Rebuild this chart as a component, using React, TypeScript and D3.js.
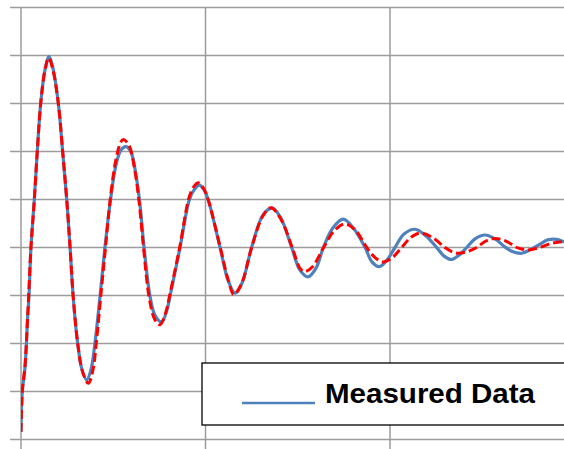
import React from "react";
import * as d3 from "d3";

// time (ms) and displacement (mm)
const measuredT = [0, 0.7, 2.2, 3.6, 4.3, 5.4, 7.2, 8.8, 10.7, 13.0, 15.2, 17.3, 20.2, 22.6, 24.8, 26.6, 28.3, 30.7, 33.1, 35.6, 37.9, 40.1, 42.8, 45.5, 48.5, 51.5, 54.2, 56.9, 59.6, 62.3, 64.5, 66.7, 69.9, 72.6, 76.3, 79.1, 80.8, 86.2, 91.2, 93.8, 96.6, 99.2, 101.5, 107.9, 112.2, 116.0, 119.8, 125.0, 131.2, 136.2, 140.9, 146.7, 151.2, 155.7, 159.9, 163.9, 169.1, 174.7, 180.0, 186.5, 190.2, 194.2, 198.4, 202.7, 207.6, 213.6, 219.5, 225.3, 229.3, 233.4, 237.4, 241.6, 246.1, 251.5, 256.9, 262.3, 266.7, 271.4, 275.9, 281.3, 285.6, 290.4, 294.3, 300];
const measuredY = [-38.4, -30, -24.9, -14.5, -10.3, 0, 9.9, 19.9, 30.1, 37.0, 39.75, 37.4, 30.1, 19.9, 9.9, 0, -10.3, -19.9, -25.5, -27.6, -25.5, -19.9, -10.3, 0, 9.9, 17.2, 20.3, 21.0, 19.9, 15.1, 8.9, 0, -10.1, -14.1, -15.5, -13.0, -10.1, 0, 9.9, 12.0, 13.0, 12.0, 9.9, 0, -6.8, -9.5, -7.4, 0, 6.8, 8.2, 6.1, 0, -4.7, -6.1, -4.3, 0, 4.1, 5.9, 4.1, 0, -3.0, -4.0, -2.6, 0, 2.8, 3.8, 2.4, 0, -1.8, -2.5, -1.6, 0, 1.8, 2.6, 1.8, 0.1, -0.9, -1.2, -0.5, 0.7, 1.6, 1.7, 1.2, 0.6];

const modelT = [0, 0.7, 2.2, 3.6, 5.4, 7.2, 8.8, 10.7, 13.0, 15.0, 17.3, 20.2, 22.6, 24.8, 26.6, 28.3, 30.7, 33.3, 36.5, 39.0, 40.8, 43.2, 45.8, 48.5, 51.3, 53.9, 55.4, 58.5, 61.5, 64.0, 66.4, 69.5, 72.5, 75.3, 78.5, 80.5, 86.0, 91.0, 93.7, 96.1, 99.0, 101.5, 108.0, 112.4, 115.4, 119.5, 125.0, 131.0, 135.5, 141.0, 147.0, 151.5, 153.9, 158.0, 164.0, 169.8, 175.6, 181.5, 187.4, 191.9, 196.4, 201.3, 206.3, 211.3, 216.3, 223.0, 229.8, 233.4, 237.0, 242.0, 247.0, 252.0, 256.9, 262.8, 268.7, 271.8, 275.0, 281.0, 287.5, 293.9, 300];
const modelY = [-38.4, -30, -24.5, -14.5, 0, 9.9, 19.9, 30.1, 37.0, 39.5, 37.0, 30.1, 19.9, 9.9, 0, -10.3, -19.9, -25.8, -28.3, -25.5, -19.9, -10.3, 0, 10.5, 18.0, 21.8, 22.5, 21.3, 16.5, 9.5, 0, -10.5, -15.0, -16.1, -13.5, -10.1, 0, 10.3, 12.7, 13.5, 12.3, 9.9, 0, -6.9, -9.8, -7.6, 0, 6.5, 8.3, 5.8, 0, -4.5, -5.0, -4.0, 0, 3.5, 4.9, 3.5, 0, -2.1, -3.0, -2.1, 0, 2.1, 3.0, 2.1, 0, -0.85, -1.2, -0.85, 0, 1.35, 1.9, 1.35, 0, -0.35, -0.5, 0, 0.85, 1.2, 1.0];

const xTicks = [0, 100, 200, 300];
const yTicks = [-40, -30, -20, -10, 0, 10, 20, 30, 40, 50];
const legendLabel = "Measured Data";

const W = 564;
const H = 449;

export default function App() {
  const x = d3.scaleLinear().domain([0, 300]).range([21, 574.5]);
  const y = d3.scaleLinear().domain([-40, 50]).range([439.5, 7.5]);

  const line = d3
    .line<[number, number]>()
    .x((d) => x(d[0]))
    .y((d) => y(d[1]))
    .curve(d3.curveCatmullRom.alpha(0.5));

  const measured = measuredT.map((t, i) => [t, measuredY[i]] as [number, number]);
  const model = modelT.map((t, i) => [t, modelY[i]] as [number, number]);

  const grid = "#9c9c9c";

  return (
    <svg
      width={W}
      height={H}
      style={{ position: "absolute", left: 0, top: 0, background: "#fff" }}
    >
      <defs>
        <clipPath id="plot">
          <rect x={21} y={0} width={W - 21} height={445} />
        </clipPath>
      </defs>
      {yTicks.map((v) => (
        <line key={"h" + v} x1={10} x2={W} y1={y(v)} y2={y(v)} stroke={grid} strokeWidth={1.5} />
      ))}
      {xTicks.map((v) => (
        <line key={"v" + v} x1={x(v)} x2={x(v)} y1={y(50)} y2={H} stroke={grid} strokeWidth={1.5} />
      ))}
      <g clipPath="url(#plot)">
        <path d={line(measured) || ""} fill="none" stroke="#4f81bd" strokeWidth={3.2} strokeLinejoin="round" />
        <path d={line(model) || ""} fill="none" stroke="#ff0000" strokeWidth={3} strokeDasharray="9,4" />
      </g>
      <rect x={202} y={363} width={W} height={62} fill="#fff" stroke="#000" strokeWidth={1.3} />
      <line x1={242} x2={315} y1={403} y2={403} stroke="#4f81bd" strokeWidth={2.5} />
      <text
        x={325}
        y={403.3}
        fontFamily="'Liberation Sans', Arial, sans-serif"
        fontWeight="bold"
        fontSize={28}
        textLength={210}
        lengthAdjust="spacingAndGlyphs"
        fill="#000"
      >
        {legendLabel}
      </text>
    </svg>
  );
}
